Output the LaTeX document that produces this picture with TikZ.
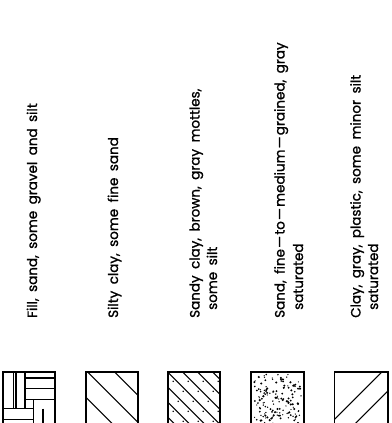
\documentclass[tikz,border=0pt]{standalone}
\usepackage{fontspec}
\setmainfont{Poppins}[WordSpace=1.8, FakeBold=1.2]
\usetikzlibrary{positioning}

\tikzset{
  soiltext/.style={rotate=90, anchor=base west, inner sep=0pt, align=left,
    font=\fontsize{13.5}{17.5}\selectfont},
  swatch/.style={draw, line width=1.6pt},
  hatch/.style={line width=1.1pt},
}
\newcommand{\ldash}{\kern1.2pt—\kern1.2pt}

\begin{document}
\begin{tikzpicture}[x=1pt, y=-1pt]
  \useasboundingbox (0,0) rectangle (391,423);
  \clip (0,0) rectangle (391,423);

  % soil descriptions (base = last line)
  \node[soiltext] (fill) at (37,318) {Fill, sand, some gravel and silt};
  \node[soiltext] (siltyclay) at (118,318) {Silty clay, some fine sand};
  \node[soiltext] (sandyclay) at (217,318)
    {Sandy clay, brown, gray mottles,\\\hspace{8pt}some silt};
  \node[soiltext, font=\fontsize{13.5}{18.5}\selectfont] (sand) at (303,318)
    {Sand, fine\ldash to\ldash medium\ldash grained, gray\\\hspace{8pt}saturated};
  \node[soiltext] (clay) at (378,318)
    {Clay, gray, plastic, some minor silt\\\hspace{8pt}saturated};

  % fill: basket weave
  \begin{scope}[shift={(2.7,372)}]
    \draw[hatch] (10.6,0) -- (10.6,36.5) (13.3,0) -- (13.3,36.5) (22.3,0) -- (22.3,36.5);
    \draw[hatch] (22.3,6) -- (52.5,6) (22.3,16.7) -- (52.5,16.7) (22.3,27.7) -- (52.5,27.7);
    \draw[hatch] (0,36.5) -- (30.6,36.5) (0,47.5) -- (30.6,47.5);
    \draw[hatch] (30.6,27.7) -- (30.6,60) (40.3,36.5) -- (40.3,60);
    \draw[swatch] (0,0) rectangle (52.5,60);
  \end{scope}

  % silty clay: wide hatch
  \begin{scope}[shift={(85.7,372)}]
    \begin{scope}
      \clip (0,0) rectangle (52,60);
      \foreach \d in {29,2,-25,-52}
        \draw[hatch] (\d,0) -- ++(70,70);
    \end{scope}
    \draw[swatch] (0,0) rectangle (52,60);
  \end{scope}

  % sandy clay: close hatch with dots
  \begin{scope}[shift={(167.7,372)}]
    \begin{scope}
      \clip (0,0) rectangle (52.5,60);
      \foreach \d in {45,30,15,0,-15,-30,-45}{
        \draw[hatch] (\d,0) -- ++(70,70);
        \foreach \t in {3,13,...,60}
          \fill (\d+7.5+\t,\t-3.75) circle (0.8);
      }
    \end{scope}
    \draw[swatch] (0,0) rectangle (52.5,60);
  \end{scope}

  % sand: random stipple
  \begin{scope}[shift={(250.7,372)}]
    \pgfmathsetseed{2718}
    \foreach \i in {1,...,150}
      \fill ({2.5+48*rnd},{2.5+50*rnd}) circle ({0.6+0.6*rnd});
    \draw[swatch] (0,0) rectangle (53.3,60);
  \end{scope}

  % clay: diagonal hatch
  \begin{scope}[shift={(334.3,372)}]
    \begin{scope}
      \clip (0,0) rectangle (53.5,60);
      \foreach \d in {47.5,72.5}
        \draw[hatch] (\d,0) -- ++(-70,70);
    \end{scope}
    \draw[swatch] (0,0) rectangle (53.5,60);
  \end{scope}
\end{tikzpicture}
\end{document}
